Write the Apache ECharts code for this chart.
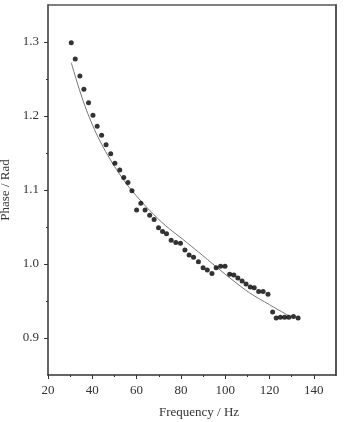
<!DOCTYPE html>
<html>
<head>
<meta charset="utf-8">
<script src="https://cdn.jsdelivr.net/npm/echarts@6/dist/echarts.min.js"></script>
<style>
  html, body { margin: 0; padding: 0; background: #fff; }
  #chart { width: 344px; height: 422px; }
</style>
</head>
<body>
<div id="chart"></div>
<script>
// measured points
var freq = [30.5, 32.3, 34.4, 36.2, 38.3, 40.3, 42.2, 44.2, 46.2, 48.3,
    50.2, 52.4, 54.2, 56.1, 57.9, 60.0, 61.9, 63.8, 65.9, 67.9,
    69.9, 71.7, 73.5, 75.6, 77.7, 79.8, 81.8, 83.7, 85.7, 87.9,
    90.0, 91.9, 94.0, 95.9, 97.9, 99.9, 102.0, 103.9, 105.7, 107.6,
    109.4, 111.3, 113.1, 115.1, 117.1, 119.3, 121.4, 123.0, 124.9, 126.8,
    128.7, 130.8, 132.9];
var phase = [1.299, 1.277, 1.254, 1.236, 1.218, 1.201, 1.186, 1.174, 1.161, 1.149,
    1.136, 1.127, 1.117, 1.110, 1.099, 1.073, 1.082, 1.073, 1.066, 1.060,
    1.049, 1.044, 1.041, 1.032, 1.029, 1.028, 1.019, 1.012, 1.009, 1.003,
    0.995, 0.992, 0.987, 0.995, 0.997, 0.997, 0.986, 0.985, 0.981, 0.977,
    0.973, 0.969, 0.968, 0.963, 0.963, 0.959, 0.935, 0.927, 0.928, 0.928,
    0.928, 0.929, 0.927];
// fitted curve
var fitFreq = [30.5, 33.5, 36.5, 39.5, 42.5, 46, 50, 54, 57.6, 62, 66, 73, 81, 88, 96, 103, 111, 120, 128.7];
var fitPhase = [1.272, 1.242, 1.215, 1.192, 1.172, 1.152, 1.132, 1.114, 1.100, 1.085, 1.072, 1.052, 1.033, 1.016, 0.996, 0.979, 0.961, 0.945, 0.930];
// ticks
var xMajor = [20, 40, 60, 80, 100, 120, 140];
var xMinor = [30, 50, 70, 90, 110, 130];
var yMajor = [0.9, 1.0, 1.1, 1.2, 1.3];
var yMinor = [0.95, 1.05, 1.15, 1.25];

var font = 'Liberation Serif';
var axisColor = '#333';

var pts = freq.map(function(f, i){ return [f, phase[i]]; });
var fit = fitFreq.map(function(f, i){ return [f, fitPhase[i]]; });

var chart = echarts.init(document.getElementById('chart'));
chart.setOption({
    animation: false,
    grid: {left: 48, right: 8, top: 5, bottom: 47, containLabel: false, outerBoundsMode: 'none'},
    xAxis: [
        {
            type: 'value', min: 20, max: 150, interval: 10,
            name: 'Frequency / Hz', nameLocation: 'middle', nameGap: 31,
            nameTextStyle: {fontFamily: font, fontSize: 13, color: axisColor, padding: [0, 0, 0, 14]},
            axisLine: {lineStyle: {color: axisColor, width: 1.5}},
            axisTick: {customValues: xMajor, length: 4, lineStyle: {color: axisColor}},
            axisLabel: {customValues: xMajor, margin: 9, fontFamily: font, fontSize: 13, color: axisColor},
            splitLine: {show: false}
        },
        {
            type: 'value', min: 20, max: 150, interval: 10, position: 'bottom',
            axisLine: {show: false},
            axisTick: {customValues: xMinor, length: 2, lineStyle: {color: axisColor}},
            axisLabel: {show: false},
            splitLine: {show: false}
        },
        {
            type: 'value', min: 20, max: 150, position: 'top',
            axisLine: {lineStyle: {color: '#555', width: 1.5}},
            axisTick: {show: false}, axisLabel: {show: false}, splitLine: {show: false}
        }
    ],
    yAxis: [
        {
            type: 'value', min: 0.85, max: 1.35, interval: 0.05,
            name: 'Phase / Rad', nameLocation: 'middle', nameGap: 33,
            nameTextStyle: {fontFamily: font, fontSize: 13, color: axisColor},
            axisLine: {lineStyle: {color: axisColor, width: 1.5}},
            axisTick: {customValues: yMajor, length: 4, lineStyle: {color: axisColor}},
            axisLabel: {customValues: yMajor, margin: 9, fontFamily: font, fontSize: 13, color: axisColor,
                formatter: function(v){ return v.toFixed(1); }},
            splitLine: {show: false}
        },
        {
            type: 'value', min: 0.85, max: 1.35, interval: 0.05, position: 'left',
            axisLine: {show: false},
            axisTick: {customValues: yMinor, length: 2, lineStyle: {color: axisColor}},
            axisLabel: {show: false},
            splitLine: {show: false}
        },
        {
            type: 'value', min: 0.85, max: 1.35, position: 'right',
            axisLine: {show: true, lineStyle: {color: '#555', width: 2}},
            axisTick: {show: false}, axisLabel: {show: false}, splitLine: {show: false}
        }
    ],
    series: [
        {
            type: 'line', data: fit, smooth: 0.3, showSymbol: false, symbol: 'none',
            lineStyle: {color: '#777', width: 1}, z: 2
        },
        {
            type: 'scatter', data: pts, symbol: 'circle', symbolSize: 5,
            itemStyle: {color: '#000'}, z: 3
        }
    ]
});
</script>
</body>
</html>
